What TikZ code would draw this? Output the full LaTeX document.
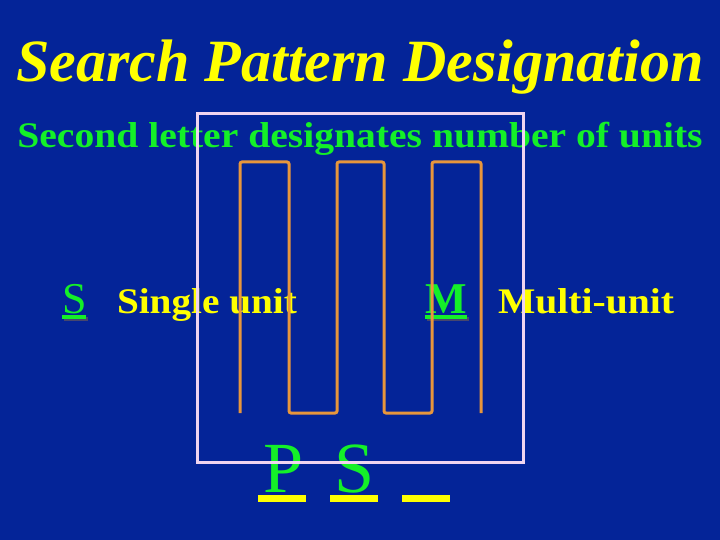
\documentclass[tikz,border=0pt]{standalone}
\usepackage{fontspec}
\setmainfont{Liberation Serif}
\usepackage{tikz}
\definecolor{slideblue}{RGB}{4,36,152}
\definecolor{titleyellow}{RGB}{255,255,0}
\definecolor{lettergreen}{RGB}{20,240,40}
\definecolor{trackorange}{RGB}{232,150,60}
\definecolor{boxpink}{RGB}{240,212,240}
\definecolor{shadowgray}{RGB}{70,70,110}

\begin{document}
\begin{tikzpicture}[x=1pt,y=-1pt]
    \fill[slideblue] (0,0) rectangle (720,540);
    \useasboundingbox (0,0) rectangle (720,540);

    \begin{scope}[every node/.style={inner sep=0pt,outer sep=0pt}]
      \node[anchor=base,text=titleyellow] (title) at (360,82)
           {\fontsize{60}{60}\selectfont\bfseries\itshape Search Pattern Designation};
      \node[anchor=base,xscale=1.1,text=lettergreen] (sub) at (360,148)
           {\fontsize{36}{36}\selectfont\bfseries Second letter designates number of units};

      \node[anchor=base west,text=lettergreen] (S) at (62,313)
           {\fontsize{44}{44}\selectfont S};
      \node[anchor=base west,xscale=1.09,text=titleyellow] (single) at (117,313)
           {\fontsize{36}{36}\selectfont\bfseries Single unit};
      \node[anchor=base west,text=lettergreen] (M) at (425,313)
           {\fontsize{44}{44}\selectfont\bfseries M};
      \node[anchor=base west,xscale=1.1,text=titleyellow] (multi) at (498,313)
           {\fontsize{36}{36}\selectfont\bfseries Multi-unit};

      \node[anchor=base,text=lettergreen] (P) at (284,492)
           {\fontsize{72}{72}\selectfont P};
      \node[anchor=base,text=lettergreen] (S2) at (355,492)
           {\fontsize{72}{72}\selectfont S};
    \end{scope}

    % underlines
    \draw[shadowgray,line width=3.5pt] ([xshift=2pt,yshift=-6pt]S.base west) -- ([xshift=2pt,yshift=-6pt]S.base east);
    \draw[lettergreen,line width=3.5pt] ([yshift=-4pt]S.base west) -- ([yshift=-4pt]S.base east);
    \draw[shadowgray,line width=3.5pt] ([xshift=2pt,yshift=-6pt]M.base west) -- ([xshift=2pt,yshift=-6pt]M.base east);
    \draw[lettergreen,line width=3.5pt] ([yshift=-4pt]M.base west) -- ([yshift=-4pt]M.base east);

    % blanks of the designation
    \fill[titleyellow] (258,495) rectangle (306,502);
    \fill[titleyellow] (330,495) rectangle (378,502);
    \fill[titleyellow] (402,495) rectangle (450,502);

    % search area and track
    \draw[boxpink,line width=3pt] (197,114) rectangle (523,462);
    \draw[trackorange,line width=3pt,rounded corners=2pt]
      (240,413) -- (240,162) -- (289,162) -- (289,413) -- (337,413) -- (337,162)
      -- (384,162) -- (384,413) -- (432,413) -- (432,162) -- (481,162) -- (481,413);
\end{tikzpicture}
\end{document}
